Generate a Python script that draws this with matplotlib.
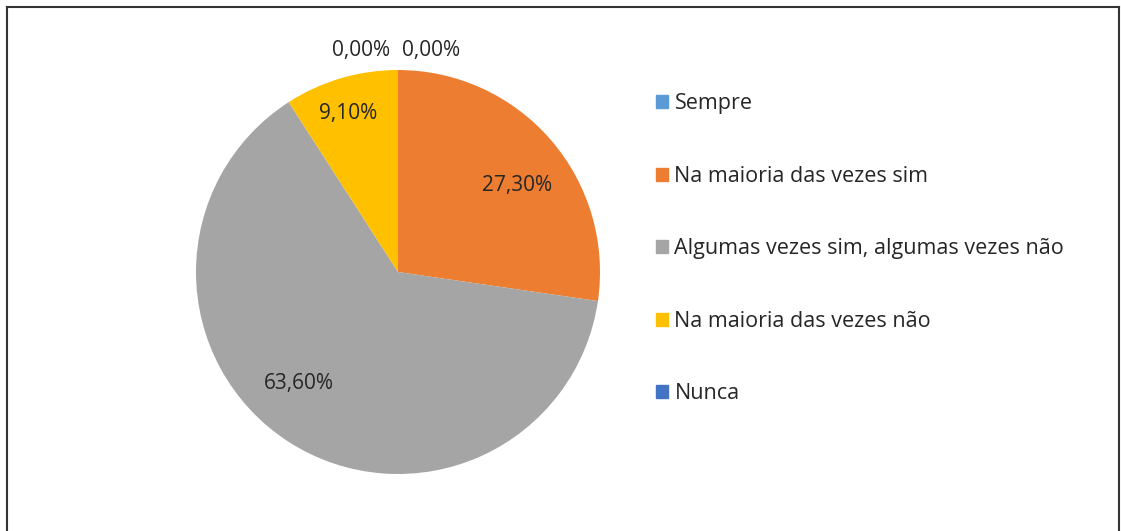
import numpy as np
import matplotlib
matplotlib.use("Agg")
import matplotlib.pyplot as plt
from matplotlib.lines import Line2D

# categories and shares (%)
categories = ["Sempre", "Na maioria das vezes sim",
              "Algumas vezes sim, algumas vezes não",
              "Na maioria das vezes não", "Nunca"]
values = [0.0, 27.3, 63.6, 9.1, 0.0]
labels = ["0,00%", "27,30%", "63,60%", "9,10%", "0,00%"]
colors = ["#5B9BD5", "#ED7D31", "#A5A5A5", "#FFC000", "#4472C4"]

plt.rcParams['font.family'] = ['Open Sans', 'DejaVu Sans']

W, H = 1121, 531
fig = plt.figure(figsize=(W / 100, H / 100), dpi=100)

# pie axes: center (398, 272), radius 202 px
r = 202
cx, cy = 398, 272
ax = fig.add_axes([(cx - r) / W, (H - cy - r) / H, 2 * r / W, 2 * r / H])
wedges, _ = ax.pie(values, colors=colors, startangle=90, counterclock=False,
                   radius=1.0, wedgeprops=dict(linewidth=0))
ax.set_xlim(-1, 1)
ax.set_ylim(-1, 1)
ax.set_aspect("equal")

# label placement (distance from centre, plus small angular nudges)
dist = [1.11, 0.73, 0.74, 0.82, 1.11]
nudge = [-8.5, -5, -9, 1, 9.5]
for w, lab, d, n in zip(wedges, labels, dist, nudge):
    ang = np.deg2rad((w.theta1 + w.theta2) / 2 + n)
    ax.text(d * np.cos(ang), d * np.sin(ang), lab, ha="center", va="center",
            fontsize=15, color="#262626", clip_on=False)

# legend
handles = [plt.Rectangle((0, 0), 1, 1, color=c) for c in colors]
leg = fig.legend(handles, categories, loc="upper left",
                 bbox_to_anchor=(637 / W, 1 - 74 / H), frameon=False,
                 fontsize=15.5, handlelength=0.56, handleheight=0.56,
                 handletextpad=0.28, labelspacing=2.39, labelcolor="#262626")

# outer frame (top, left, right)
fig.add_artist(Line2D([7 / W, 1119 / W], [1 - 7 / H, 1 - 7 / H], color="#333333", lw=1.5))
fig.add_artist(Line2D([7 / W, 7 / W], [0, 1 - 7 / H], color="#333333", lw=1.5))
fig.add_artist(Line2D([1119 / W, 1119 / W], [0, 1 - 7 / H], color="#333333", lw=1.5))

fig.savefig("out.png", dpi=100)
